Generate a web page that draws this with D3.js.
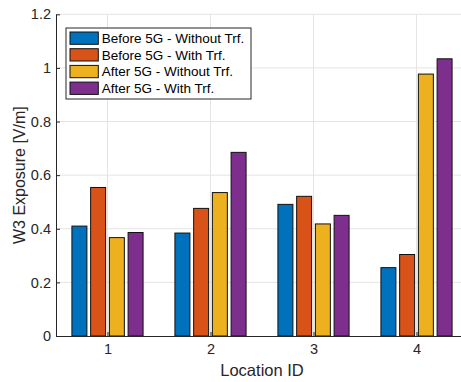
<!DOCTYPE html>
<html>
<head>
<meta charset="utf-8">
<script src="https://cdn.jsdelivr.net/npm/d3@7"></script>
<style>
  body { margin: 0; background: #fff; }
  svg { display: block; font-family: "Liberation Sans", Arial, Helvetica, sans-serif; }
</style>
</head>
<body>
<div id="rootDiv"></div>
<script>
// data
const locations = [1, 2, 3, 4]
const seriesNames = [
    "Before 5G - Without Trf.",
    "Before 5G - With Trf.",
    "After 5G - Without Trf.",
    "After 5G - With Trf.",
]
const beforeWithout = [0.410, 0.384, 0.491, 0.255]
const beforeWith = [0.554, 0.476, 0.521, 0.304]
const afterWithout = [0.367, 0.535, 0.418, 0.977]
const afterWith = [0.386, 0.685, 0.450, 1.034]
const yTicks = [0, 0.2, 0.4, 0.6, 0.8, 1, 1.2]

const series = [beforeWithout, beforeWith, afterWithout, afterWith]
const colors = ["#0072BD", "#D95319", "#EDB120", "#7E2F8E"]
const axisColor = "#262626"
const gridColor = "#e4e4e4"

const width = 461
const height = 382
const plot = { left: 56, right: 468, top: 14.3, bottom: 336 }

const svg = d3.select(document.getElementById("rootDiv"))
    .append("svg")
    .attr("width", width)
    .attr("height", height)

const x = d3.scaleLinear()
    .domain([0.5, 4.5])
    .range([plot.left, plot.right])

const y = d3.scaleLinear()
    .domain([0, 1.2])
    .range([plot.bottom, plot.top])

// matlab style grouped bars
const n = series.length
const groupWidth = Math.min(0.8, n / (n + 1.5))
const slot = groupWidth / n
const barWidth = 0.8 * slot

// grid
const grid = svg.append("g")
grid.selectAll("line.h")
    .data(yTicks.slice(1))
    .enter()
    .append("line")
    .attr("x1", plot.left)
    .attr("x2", plot.right)
    .attr("y1", d => y(d))
    .attr("y2", d => y(d))
    .attr("stroke", gridColor)
    .attr("stroke-width", 1)
grid.selectAll("line.v")
    .data(locations)
    .enter()
    .append("line")
    .attr("x1", d => x(d))
    .attr("x2", d => x(d))
    .attr("y1", plot.top)
    .attr("y2", plot.bottom)
    .attr("stroke", gridColor)
    .attr("stroke-width", 1)

// bars
series.forEach((vals, si) => {
    const offset = (si - (n - 1) / 2) * slot
    svg.append("g")
        .selectAll("rect")
        .data(vals)
        .enter()
        .append("rect")
        .attr("x", (_d, i) => x(locations[i] + offset - barWidth / 2))
        .attr("width", x(barWidth) - x(0))
        .attr("y", d => y(d))
        .attr("height", d => y(0) - y(d))
        .attr("fill", colors[si])
        .attr("stroke", "#111")
        .attr("stroke-width", 1)
})

// axes
const xAxis = svg.append("g")
    .attr("transform", `translate(0,${plot.bottom})`)
    .call(d3.axisBottom(x).tickValues(locations).tickFormat(d3.format("d"))
        .tickSizeInner(-4).tickSizeOuter(0).tickPadding(8))

const yAxis = svg.append("g")
    .attr("transform", `translate(${plot.left},0)`)
    .call(d3.axisLeft(y).tickValues(yTicks).tickFormat(d => d3.format("~g")(d))
        .tickSizeInner(-4).tickSizeOuter(0).tickPadding(5))

for (const axis of [xAxis, yAxis]) {
    axis.selectAll("line").style("stroke", axisColor)
    axis.selectAll("path").style("stroke", axisColor)
    axis.selectAll("text")
        .style("fill", axisColor)
        .style("font-size", "14.5px")
        .style("font-family", "\"Liberation Sans\", Arial, sans-serif")
}

// axis labels
svg.append("text")
    .attr("x", (plot.left + plot.right) / 2)
    .attr("y", 376)
    .attr("text-anchor", "middle")
    .attr("fill", axisColor)
    .style("font-size", "16.5px")
    .text("Location ID")

svg.append("text")
    .attr("transform", `translate(25,${(plot.top + plot.bottom) / 2}) rotate(-90)`)
    .attr("text-anchor", "middle")
    .attr("fill", axisColor)
    .style("font-size", "16px")
    .text("W3 Exposure [V/m]")

// legend
const legend = svg.append("g").attr("transform", "translate(66,28)")
legend.append("rect")
    .attr("width", 185)
    .attr("height", 71)
    .attr("fill", "#fff")
    .attr("stroke", axisColor)
    .attr("stroke-width", 1)

const rows = legend.selectAll("g.row")
    .data(seriesNames)
    .enter()
    .append("g")
    .attr("transform", (_d, i) => `translate(0,${4 + i * 16.7})`)
rows.append("rect")
    .attr("x", 4)
    .attr("width", 28.3)
    .attr("height", 12.3)
    .attr("fill", (_d, i) => colors[i])
    .attr("stroke", "#111")
    .attr("stroke-width", 1)
rows.append("text")
    .attr("x", 35.7)
    .attr("y", 11)
    .attr("fill", "#000")
    .style("font-size", "13.5px")
    .text(d => d)
</script>
</body>
</html>
